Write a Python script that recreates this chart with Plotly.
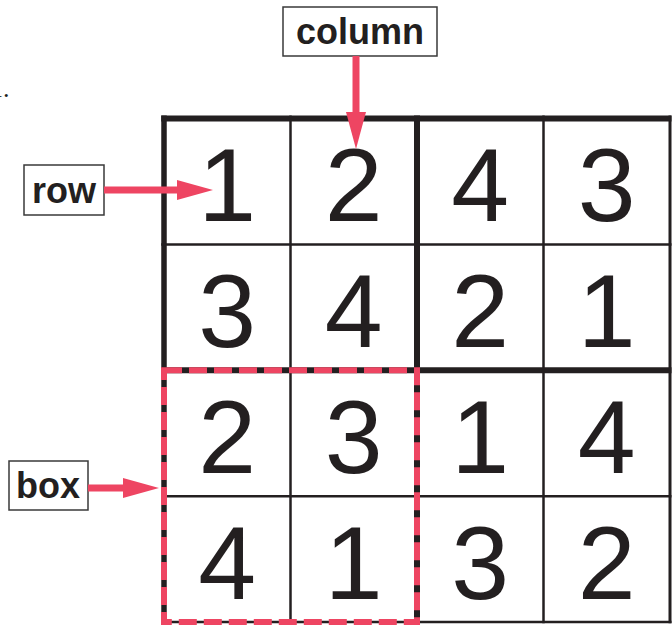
import plotly.graph_objects as go

# ---------------- data ----------------
grid_values = [
    [1, 2, 4, 3],
    [3, 4, 2, 1],
    [2, 3, 1, 4],
    [4, 1, 3, 2],
]
row_index = [0, 1, 2, 3]
col_index = [0, 1, 2, 3]
label_texts = ["column", "row", "box"]
box_rows = [2, 4]   # highlighted 2x2 box: rows 2..4
box_cols = [0, 2]   # columns 0..2
fragment_text = "1."

# ---------------- styling / geometry ----------------
W, H = 672, 626
INK = "#231f20"
RED = "#ee4562"
X0, CW = 164.0, 126.5     # pixel of left grid edge, cell width
Y0, CH = 118.5, 125.9     # pixel of top grid edge, cell height
DIGIT_DY = 0.11           # visual centring of digits in a cell (cell units)


def px(x):
    return x / W


def py(y):
    return 1 - y / H


xs, ys, ts = [], [], []
for r in row_index:
    for c in col_index:
        xs.append(c + 0.5)
        ys.append(r + 0.5 + DIGIT_DY)
        ts.append(str(grid_values[r][c]))

fig = go.Figure(
    go.Scatter(
        x=xs, y=ys, text=ts, mode="text", textposition="middle center",
        textfont=dict(family="Liberation Sans, Arial, sans-serif", size=104, color=INK),
        hoverinfo="skip", showlegend=False,
    )
)

shapes = []
n = len(col_index)
v_widths = [5.5, 2.5, 6, 2.5, 3]
h_widths = [6, 2.5, 6, 2.5, 2.5]
ext_y = 3 / CH
for i in range(n + 1):
    shapes.append(dict(type="line", xref="x", yref="y", x0=i, x1=i,
                       y0=-ext_y, y1=n + 1.25 / CH,
                       line=dict(color=INK, width=v_widths[i])))
for j in range(n + 1):
    shapes.append(dict(type="line", xref="x", yref="y", y0=j, y1=j,
                       x0=-2.75 / CW, x1=n + 1.5 / CW,
                       line=dict(color=INK, width=h_widths[j])))

# highlighted box
shapes.append(dict(type="rect", xref="x", yref="y",
                   x0=box_cols[0], x1=box_cols[1], y0=box_rows[0], y1=box_rows[1],
                   line=dict(color=RED, width=6, dash="18px,7px")))

# label boxes: (text, x0, x1, y0, y1) in pixels
label_boxes = [
    (label_texts[0], 283, 437, 7, 56),
    (label_texts[1], 24, 104, 165, 215),
    (label_texts[2], 9, 88, 461, 510),
]
for _, x0, x1, y0, y1 in label_boxes:
    shapes.append(dict(type="rect", xref="paper", yref="paper",
                       x0=px(x0), x1=px(x1), y0=py(y1), y1=py(y0),
                       line=dict(color="#3a3a3a", width=1.5), fillcolor="white"))

# arrows: shaft (x0,y0,x1,y1), head triangle points (pixels)
arrows = [
    ((356, 56, 356, 113), [(346, 112), (366, 112), (356, 149)]),
    ((104, 190, 178, 190), [(177, 180), (177, 200), (213, 190)]),
    ((88, 488, 124, 488), [(123, 478), (123, 498), (159, 488)]),
]
for (sx0, sy0, sx1, sy1), tri in arrows:
    shapes.append(dict(type="line", xref="paper", yref="paper",
                       x0=px(sx0), y0=py(sy0), x1=px(sx1), y1=py(sy1),
                       line=dict(color=RED, width=7)))
    path = "M " + " L ".join(f"{px(a):.5f},{py(b):.5f}" for a, b in tri) + " Z"
    shapes.append(dict(type="path", xref="paper", yref="paper", path=path,
                       fillcolor=RED, line=dict(width=0)))

annotations = []
for text, x0, x1, y0, y1 in label_boxes:
    annotations.append(dict(
        text=text, xref="paper", yref="paper",
        x=px((x0 + x1) / 2), y=py((y0 + y1) / 2),
        xanchor="center", yanchor="middle", showarrow=False,
        font=dict(family="Liberation Sans, Arial, sans-serif", size=36,
                  color=INK, weight="bold"),
    ))
annotations.append(dict(
    text=fragment_text, xref="paper", yref="paper",
    x=px(12), y=py(88), xanchor="right", yanchor="middle", showarrow=False,
    font=dict(family="Liberation Serif, Times New Roman, serif", size=26, color=INK),
))

fig.update_layout(
    width=W, height=H,
    margin=dict(l=0, r=0, t=0, b=0, pad=0),
    paper_bgcolor="white", plot_bgcolor="white",
    xaxis=dict(range=[-X0 / CW, (W - X0) / CW], visible=False, fixedrange=True),
    yaxis=dict(range=[(H - Y0) / CH, -Y0 / CH], visible=False, fixedrange=True),
    shapes=shapes, annotations=annotations,
    showlegend=False,
)

fig.write_html(
    "out.html",
    config={"displayModeBar": False},
    post_script="document.body.style.margin='0';document.body.style.overflow='hidden';",
)
